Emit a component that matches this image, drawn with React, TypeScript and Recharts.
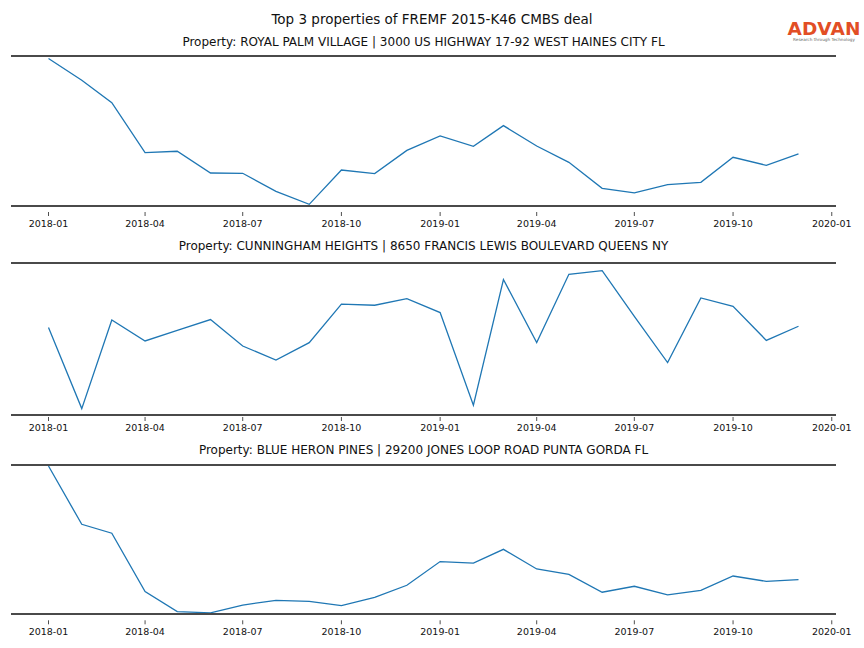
import { LineChart, Line, XAxis, YAxis, ReferenceLine } from 'recharts'

const months = [
  '2018-01', '2018-02', '2018-03', '2018-04', '2018-05', '2018-06',
  '2018-07', '2018-08', '2018-09', '2018-10', '2018-11', '2018-12',
  '2019-01', '2019-02', '2019-03', '2019-04', '2019-05', '2019-06',
  '2019-07', '2019-08', '2019-09', '2019-10', '2019-11', '2019-12',
]

// relative visit levels (0 = bottom spine, 100 = top spine)
const royalPalm = [
  98.3, 83.8, 68.9, 35.6, 36.5, 22.0, 21.8, 9.8, 1.1, 24.0, 21.6, 37.1,
  46.7, 39.8, 53.6, 40.0, 29.1, 11.8, 8.7, 14.3, 15.8, 32.5, 27.1, 34.7,
]
const cunningham = [
  57.5, 4.2, 62.5, 48.7, 55.7, 62.8, 45.4, 36.2, 47.6, 73.0, 72.2, 76.6,
  67.4, 6.4, 89.1, 47.6, 92.6, 95.0, 64.9, 34.5, 77.0, 71.5, 49.1, 58.4,
]
const blueHeron = [
  99.3, 60.2, 54.2, 15.0, 1.6, 0.7, 6.0, 9.2, 8.5, 5.6, 11.2, 19.3,
  35.2, 34.2, 43.4, 30.2, 26.6, 14.6, 18.6, 12.8, 15.9, 25.5, 21.9, 23.1,
]

const tickLabels = [
  '2018-01', '2018-04', '2018-07', '2018-10',
  '2019-01', '2019-04', '2019-07', '2019-10', '2020-01',
]

const FONT = '"DejaVu Sans", sans-serif'

const dayOf = (label: string) => {
  const [y, m] = label.split('-').map(Number)
  return (Date.UTC(y, m - 1, 1) - Date.UTC(2018, 0, 1)) / 86400000
}

const tickDays = tickLabels.map(dayOf)
const lastDay = dayOf(months[months.length - 1])
const pad = lastDay * 0.05

const toRows = (values: number[]) =>
  months.map((m, i) => ({ day: dayOf(m), value: values[i] }))

const DateTick = (props: any) => {
  const { x, y, payload, gap, labelGap } = props
  const idx = tickDays.indexOf(payload.value)
  return (
    <g>
      <line x1={x} x2={x} y1={y + gap} y2={y + gap + 4} stroke="#222" strokeWidth={0.8} />
      <text
        x={x}
        y={y + labelGap}
        textAnchor="middle"
        dominantBaseline="central"
        fontSize={9.5}
        fontFamily={FONT}
        fill="#111"
      >
        {idx >= 0 ? tickLabels[idx] : ''}
      </text>
    </g>
  )
}

type PanelProps = {
  top: number
  height: number
  title: string
  titleY: number
  values: number[]
  gap: number
  labelGap: number
}

const Panel = ({ top, height, title, titleY, values, gap, labelGap }: PanelProps) => {
  const inset = 5
  return (
    <>
      <div
        style={{
          position: 'absolute',
          left: 11,
          width: 825,
          top: titleY - 8,
          textAlign: 'center',
          fontFamily: FONT,
          fontSize: 12,
          lineHeight: '16px',
          color: '#111',
          whiteSpace: 'nowrap',
        }}
      >
        {title}
      </div>
      <div style={{ position: 'absolute', left: 0, top: top - inset }}>
        <LineChart
          width={864}
          height={height + inset + 30}
          data={toRows(values)}
          margin={{ top: inset, right: 28, left: 11, bottom: 0 }}
        >
          <XAxis
            dataKey="day"
            type="number"
            domain={[-pad, lastDay + pad]}
            ticks={tickDays}
            interval={0}
            height={30}
            tickSize={0}
            tickMargin={0}
            tickLine={false}
            axisLine={{ stroke: '#4a4a4a', strokeWidth: 1.8 }}
            tick={<DateTick gap={gap} labelGap={labelGap} />}
          />
          <YAxis hide domain={[0, 100]} />
          <ReferenceLine y={100} stroke="#4a4a4a" strokeWidth={1.8} />
          <Line
            type="linear"
            dataKey="value"
            stroke="#1f77b4"
            strokeWidth={1.3}
            dot={false}
            isAnimationActive={false}
          />
        </LineChart>
      </div>
    </>
  )
}

export default function App() {
  return (
    <div
      style={{
        position: 'absolute',
        left: 0,
        top: 0,
        width: 864,
        height: 648,
        background: '#fff',
        overflow: 'hidden',
      }}
    >
      <div
        style={{
          position: 'absolute',
          left: 0,
          width: 864,
          top: 10,
          textAlign: 'center',
          fontFamily: FONT,
          fontSize: 13.5,
          lineHeight: '18px',
          color: '#111',
        }}
      >
        Top 3 properties of FREMF 2015-K46 CMBS deal
      </div>

      <svg style={{ position: 'absolute', left: 786, top: 14 }} width={76} height={30}>
        <text x={38} y={20.5} textAnchor="middle" fontFamily={FONT} fontSize={18.5} fontWeight={600} fill="#e24e25" letterSpacing={0.1}>
          ADVAN
        </text>
        <text x={38} y={26.8} textAnchor="middle" fontFamily={FONT} fontSize={4.2} fill="#666">
          Research through Technology
        </text>
      </svg>

      <Panel
        top={55.7}
        height={150}
        title="Property: ROYAL PALM VILLAGE | 3000 US HIGHWAY 17-92 WEST HAINES CITY FL"
        titleY={42}
        values={royalPalm}
        gap={6}
        labelGap={17}
      />
      <Panel
        top={262.7}
        height={152}
        title="Property: CUNNINGHAM HEIGHTS | 8650 FRANCIS LEWIS BOULEVARD QUEENS NY"
        titleY={246}
        values={cunningham}
        gap={2}
        labelGap={12}
      />
      <Panel
        top={464.7}
        height={149}
        title="Property: BLUE HERON PINES | 29200 JONES LOOP ROAD PUNTA GORDA FL"
        titleY={450}
        values={blueHeron}
        gap={6.3}
        labelGap={17.5}
      />
    </div>
  )
}
